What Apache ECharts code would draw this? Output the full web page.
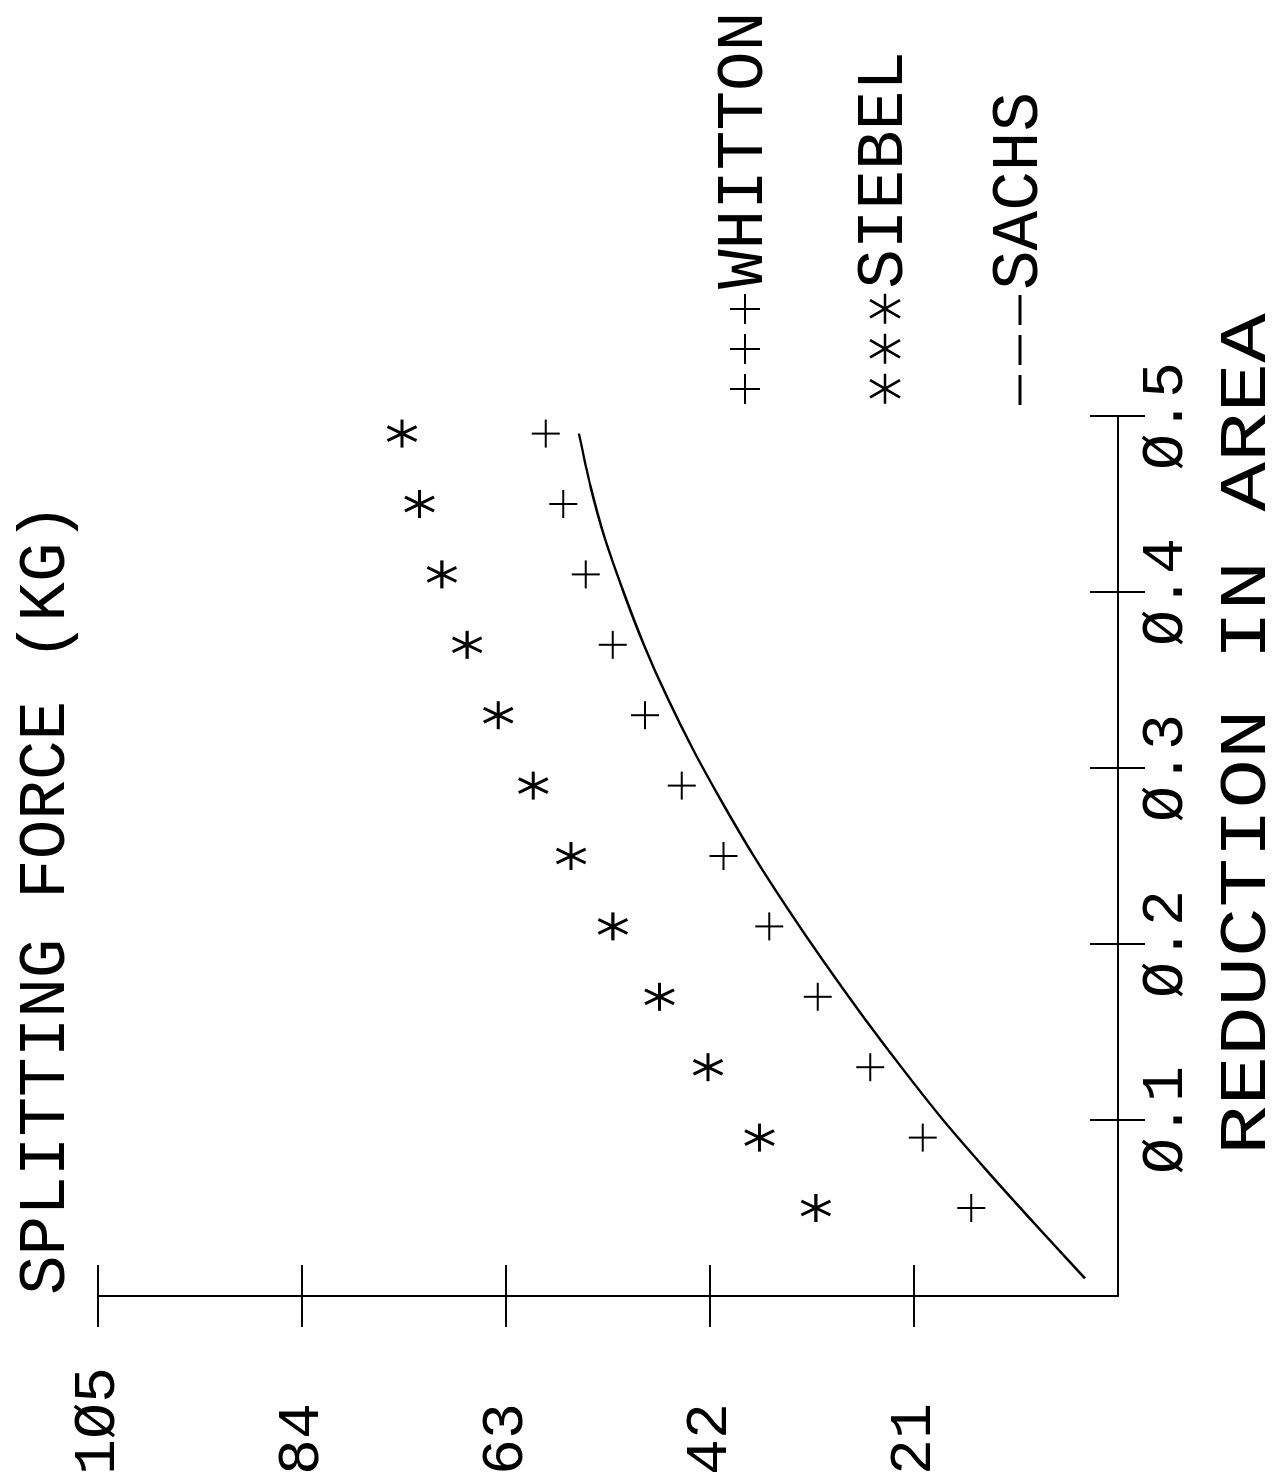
<!DOCTYPE html>
<html>
<head>
<meta charset="utf-8">
<title>Splitting force vs reduction in area</title>
<script src="https://cdn.jsdelivr.net/npm/echarts@6/dist/echarts.min.js"></script>
<style>
  html, body { margin: 0; padding: 0; background: #fff; overflow: hidden; }
  body { width: 1272px; height: 1478px; position: relative; }
  /* the plot was printed sideways, so the chart is drawn upright and turned a quarter left */
  #main {
    position: absolute; left: 0; top: 0;
    width: 1478px; height: 1272px;
    transform-origin: 0 0;
    transform: translate(0, 1478px) rotate(-90deg);
  }
</style>
</head>
<body>
<div id="main"></div>
<script>
// reduction in area for the measured points
var reduction = [0.05, 0.09, 0.13, 0.17, 0.21, 0.25, 0.29, 0.33, 0.37, 0.41, 0.45, 0.49];
// splitting force (kg)
var whitton = [15.1, 20.1, 25.5, 30.9, 35.9, 40.6, 44.9, 48.7, 52.0, 54.8, 57.1, 58.9];
var siebel = [31.1, 36.9, 42.2, 47.2, 52.0, 56.3, 60.2, 63.8, 67.0, 69.6, 71.9, 73.7];
// sachs curve
var sachsReduction = [0.01, 0.04, 0.07, 0.10, 0.13, 0.16, 0.19, 0.22, 0.25, 0.28, 0.31, 0.34, 0.37, 0.40, 0.43, 0.46, 0.49];
var sachs = [3.4, 8.4, 13.3, 18.0, 22.3, 26.4, 30.3, 34.0, 37.5, 40.7, 43.7, 46.4, 48.8, 50.9, 52.8, 54.3, 55.5];
// axis ticks
var forceTicks = [21, 42, 63, 84, 105];
var reductionTicks = [0.1, 0.2, 0.3, 0.4, 0.5];

var FONT = "'Liberation Mono', 'DejaVu Sans Mono', monospace";
var BLACK = '#000';

// plotter draws zeros slashed
function slashZero(v) {
    return String(v).replace(/0/g, '\u00D8');
}
function pairs(xs, ys) {
    return xs.map(function (x, i) { return [x, ys[i]]; });
}

// marker shapes (chart is drawn upright, so the star has a horizontal arm)
var plusPath = 'path://M0,50L100,50M50,0L50,100';
var starPath = 'path://M0,50L100,50M25,0L75,100M75,0L25,100';
// legend keys: three plotter characters each
var plusKey = 'path://M5,15L35,15M20,0L20,30M45,15L75,15M60,0L60,30M85,15L115,15M100,0L100,30';
var starKey = 'path://M5,15L35,15M11.3,0L28.7,30M28.7,0L11.3,30' +
              'M45,15L75,15M51.3,0L68.7,30M68.7,0L51.3,30' +
              'M85,15L115,15M91.3,0L108.7,30M108.7,0L91.3,30';
var dashKey = 'path://M5,0L35,0L35,3L5,3ZM45,0L75,0L75,3L45,3ZM85,0L115,0L115,3L85,3Z';

var myChart = echarts.init(document.getElementById('main'), null, { renderer: 'canvas' });

function legendItem(name, icon, top, border) {
    return {
        data: [name],
        left: 1073,
        top: top,
        padding: 0,
        icon: icon,
        itemWidth: 110,
        itemHeight: 30,
        selectedMode: false,
        itemStyle: { color: BLACK, borderColor: BLACK, borderWidth: border },
        textStyle: { fontFamily: FONT, fontSize: 66, color: BLACK }
    };
}

var tickStyle = { color: BLACK, width: 2 };

var option = {
    animation: false,
    backgroundColor: '#fff',
    title: {
        text: 'SPLITTING FORCE (KG)',
        left: 183,
        top: 14,
        padding: 0,
        textStyle: { fontFamily: FONT, fontSize: 66, fontWeight: 'normal', color: BLACK }
    },
    legend: [
        legendItem('WHITTON', plusKey, 712, 2),
        legendItem('SIEBEL', starKey, 852, 2.5),
        legendItem('SACHS', dashKey, 987, 0)
    ],
    grid: { left: 182, right: 416, top: 98, bottom: 154, containLabel: false },
    xAxis: [
        {
            type: 'value', min: 0, max: 0.5, interval: 0.1, position: 'bottom',
            axisLine: { onZero: false, lineStyle: { color: BLACK, width: 2 } },
            axisTick: { customValues: reductionTicks, length: 27, lineStyle: tickStyle },
            axisLabel: {
                customValues: reductionTicks, margin: 18, color: BLACK,
                fontFamily: FONT, fontSize: 60, formatter: slashZero
            },
            splitLine: { show: false }
        },
        {
            type: 'value', min: 0, max: 0.5, interval: 0.1, position: 'bottom',
            axisLine: { show: false },
            axisTick: { inside: true, customValues: reductionTicks, length: 28, lineStyle: tickStyle },
            axisLabel: { show: false },
            splitLine: { show: false }
        }
    ],
    yAxis: [
        {
            type: 'value', min: 0, max: 105, interval: 21, position: 'left',
            axisLine: { show: true, onZero: false, lineStyle: { color: BLACK, width: 2 } },
            axisTick: { show: true, customValues: forceTicks, length: 31, lineStyle: tickStyle },
            axisLabel: {
                customValues: forceTicks, margin: 179, align: 'left', color: BLACK,
                fontFamily: FONT, fontSize: 60, formatter: slashZero
            },
            splitLine: { show: false }
        },
        {
            type: 'value', min: 0, max: 105, interval: 21, position: 'left',
            axisLine: { show: false },
            axisTick: { show: true, inside: true, customValues: forceTicks, length: 31, lineStyle: tickStyle },
            axisLabel: { show: false },
            splitLine: { show: false }
        }
    ],
    graphic: [
        {
            // axis title is spaced wider than the other lettering
            type: 'text',
            x: 323, y: 1248,
            scaleX: 1.25,
            style: {
                text: 'REDUCTION IN AREA',
                fontFamily: FONT, fontSize: 66, fill: BLACK,
                align: 'left', verticalAlign: 'middle'
            }
        }
    ],
    series: [
        {
            name: 'WHITTON',
            type: 'scatter',
            symbol: plusPath,
            symbolSize: 28,
            itemStyle: { color: BLACK, borderColor: BLACK, borderWidth: 2, opacity: 1 },
            data: pairs(reduction, whitton)
        },
        {
            name: 'SIEBEL',
            type: 'scatter',
            symbol: starPath,
            symbolSize: [28, 29],
            itemStyle: { color: BLACK, borderColor: BLACK, borderWidth: 3, opacity: 1 },
            data: pairs(reduction, siebel)
        },
        {
            name: 'SACHS',
            type: 'line',
            showSymbol: false,
            smooth: 0.3,
            lineStyle: { color: BLACK, width: 2.5 },
            itemStyle: { color: BLACK },
            data: pairs(sachsReduction, sachs)
        }
    ]
};

myChart.setOption(option);
</script>
</body>
</html>
